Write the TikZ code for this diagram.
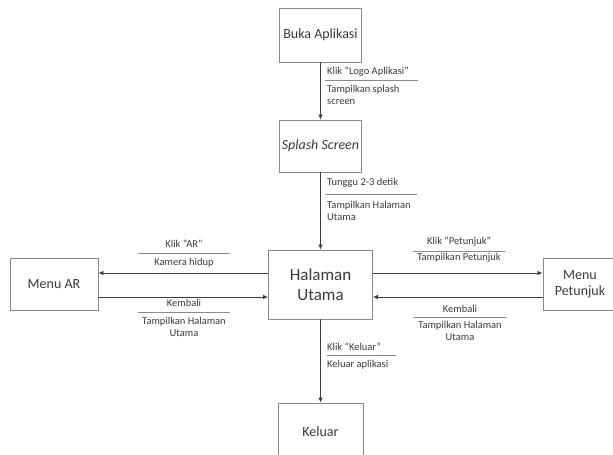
\documentclass[tikz,border=0pt]{standalone}
\usepackage{fontspec}
\setmainfont{Carlito}
\usetikzlibrary{arrows.meta}
\definecolor{boxc}{HTML}{8A8A8A}
\definecolor{linec}{HTML}{3C3C3C}
\definecolor{txtc}{HTML}{3A3A3A}
\begin{document}
\begin{tikzpicture}[x=1pt,y=-1pt,
  box/.style={draw=boxc,line width=0.9pt,fill=white,inner sep=0pt,align=center,text=txtc,font=\fontsize{14}{16.5}\selectfont},
  flow/.style={draw=linec,line width=0.8pt,-{Latex[length=5pt,width=4.5pt]}},
  lbl/.style={inner sep=0pt,text=txtc,font=\fontsize{10.5}{12}\selectfont},
  lblc/.style={lbl,align=center},
  lbll/.style={lbl,align=left,anchor=west},
  sep/.style={draw=boxc,line width=0.6pt}]
\useasboundingbox (0,0) rectangle (613,455);
% boxes
\node[box,minimum width=82,minimum height=54] (buka) at (320.5,35) {Buka Aplikasi};
\node[box,minimum width=82,minimum height=52] (splash) at (320.5,146) {\itshape Splash Screen};
\node[box,minimum width=104,minimum height=69,font=\fontsize{17}{20}\selectfont] (hal) at (320.5,284.5) {Halaman\\Utama};
\node[box,minimum width=88,minimum height=52] (ar) at (54,284) {Menu AR};
\node[box,minimum width=74,minimum height=52] (pet) at (580,284) {Menu\\Petunjuk};
\node[box,minimum width=85,minimum height=57] (kel) at (320.5,431.5) {Keluar};
% helper coordinates for arrow heights
\coordinate (ya) at (0,273);
\coordinate (yb) at (0,297);
% connectors
\draw[flow] (buka) -- (splash);
\draw[flow] (splash) -- (hal);
\draw[flow] (hal) -- (kel);
\draw[flow] (hal.west |- ya) -- (ar.east |- ya);
\draw[flow] (ar.east |- yb) -- (hal.west |- yb);
\draw[flow] (hal.east |- ya) -- (pet.west |- ya);
\draw[flow] (pet.west |- yb) -- (hal.east |- yb);
% vertical labels
\node[lbll] (l1a) at (327,72) {Klik “Logo Aplikasi”};
\draw[sep] (325,80) -- (418,80);
\node[lbll] (l1b) at (327,94.5) {Tampilkan splash\\screen};
\node[lbll] (l2a) at (327,183) {Tunggu 2-3 detik};
\draw[sep] (325,194) -- (417,194);
\node[lbll] (l2b) at (327,211) {Tampilkan Halaman\\Utama};
\node[lbll] (l5a) at (327,347) {Klik “Keluar”};
\draw[sep] (327,355) -- (396,355);
\node[lbll] (l5b) at (327,365) {Keluar aplikasi};
% left labels
\node[lblc] (l3a) at (184,244) {Klik “AR”};
\draw[sep] (138,253) -- (230,253);
\node[lblc] (l3b) at (184,263) {Kamera hidup};
\node[lblc] (l4a) at (184,303) {Kembali};
\draw[sep] (138,312) -- (230,312);
\node[lblc] (l4b) at (184,326.5) {Tampilkan Halaman\\Utama};
% right labels
\node[lblc] (l6a) at (459,242) {Klik “Petunjuk”};
\draw[sep] (413,251) -- (505,251);
\node[lblc] (l6b) at (459,258) {Tampilkan Petunjuk};
\node[lblc] (l7a) at (460,309) {Kembali};
\draw[sep] (413,317) -- (507,317);
\node[lblc] (l7b) at (460,330.5) {Tampilkan Halaman\\Utama};
\end{tikzpicture}
\end{document}
